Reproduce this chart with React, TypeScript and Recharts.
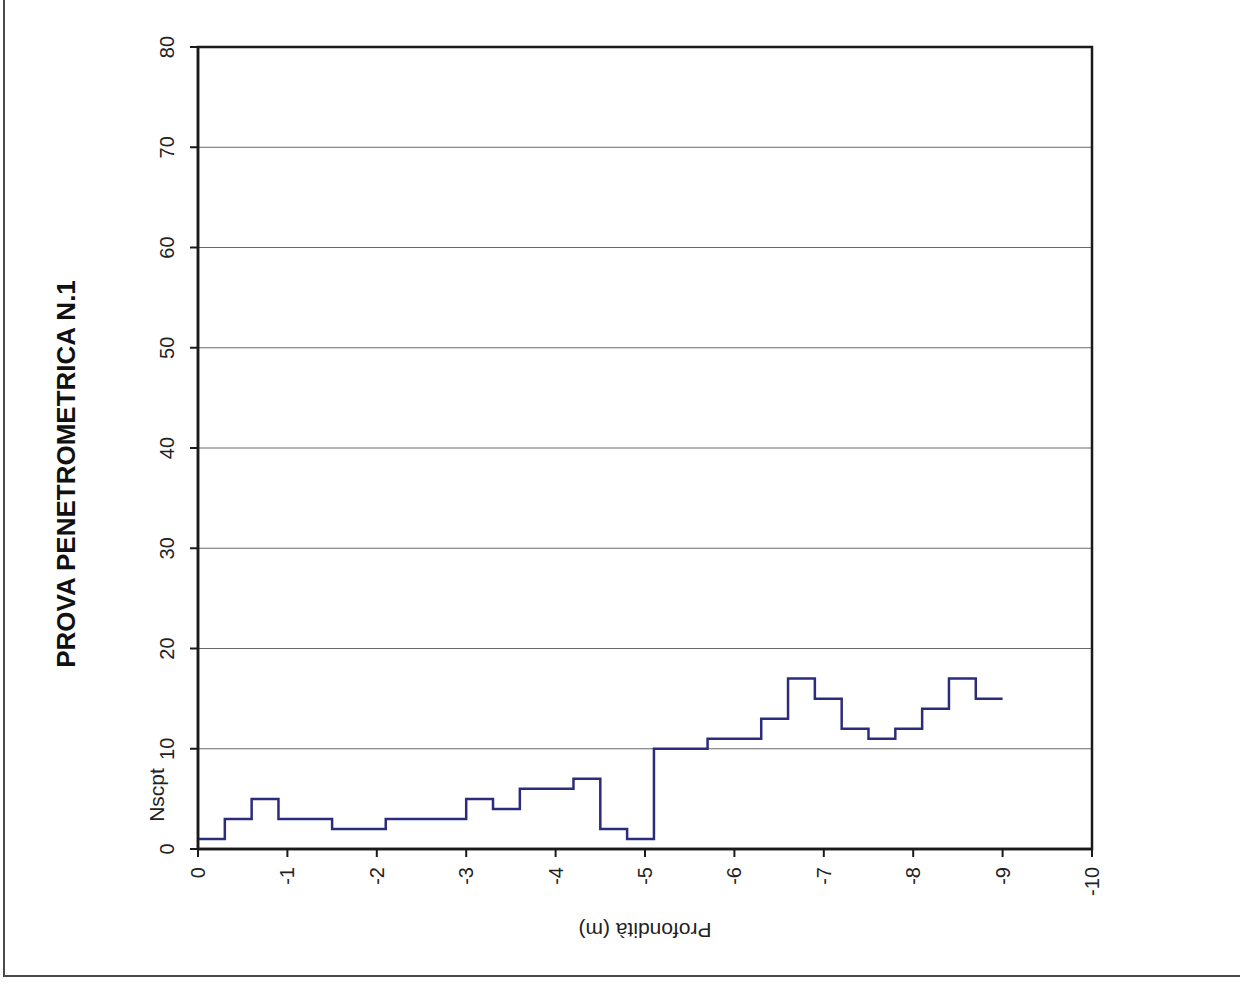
import React from 'react';
import { LineChart, Line, XAxis, YAxis, CartesianGrid, ReferenceArea, Label } from 'recharts';

// profondità (m) e colpi Nscpt, passo 0.3 m
const depth = [0, -0.3, -0.6, -0.9, -1.2, -1.5, -1.8, -2.1, -2.4, -2.7, -3.0, -3.3, -3.6, -3.9, -4.2, -4.5, -4.8, -5.1, -5.4, -5.7, -6.0, -6.3, -6.6, -6.9, -7.2, -7.5, -7.8, -8.1, -8.4, -8.7, -9.0];
const nscpt = [1, 3, 5, 3, 3, 2, 2, 3, 3, 3, 5, 4, 6, 6, 7, 2, 1, 10, 10, 11, 11, 13, 17, 15, 12, 11, 12, 14, 17, 15, 15];

const xTicks = [0, -1, -2, -3, -4, -5, -6, -7, -8, -9, -10];
const yTicks = [0, 10, 20, 30, 40, 50, 60, 70, 80];

const title = 'PROVA PENETROMETRICA N.1';
const xTitle = 'Profondità (m)';
const yTitle = 'Nscpt';

const data = depth.map((d, i) => ({ depth: d, nscpt: nscpt[i] }));

const FONT = '"Liberation Sans", Arial, sans-serif';

const YTick = (props: any) => {
    const { x, y, payload } = props;
    return (
        <text transform={`translate(${x - 21},${y}) rotate(-90)`} textAnchor="middle" dominantBaseline="central" fontSize={20} fontFamily={FONT} fill="#222">
            {payload.value}
        </text>
    );
};

const XTick = (props: any) => {
    const { x, y, payload } = props;
    return (
        <text transform={`translate(${x},${y + 8}) rotate(-90)`} textAnchor="end" dominantBaseline="central" fontSize={20} fontFamily={FONT} fill="#222">
            {payload.value}
        </text>
    );
};

export default function App() {
    return (
        <div style={{ position: 'absolute', left: 0, top: 0, width: 1240, height: 987, background: '#fff' }}>
            <div style={{ position: 'absolute', left: 3, top: 0, width: 1237, height: 975, borderLeft: '2px solid #4a4a4a', borderBottom: '2px solid #4a4a4a' }} />
            <LineChart width={1240} height={987} data={data} margin={{ top: 47, right: 148, bottom: 98, left: 138 }} style={{ position: 'absolute', left: 0, top: 0 }}>
                <CartesianGrid vertical={false} stroke="#6a6a6a" strokeWidth={1} />
                <XAxis
                    dataKey="depth"
                    type="number"
                    domain={[-10, 0]}
                    reversed
                    ticks={xTicks}
                    interval={0}
                    height={40}
                    tick={<XTick />}
                    tickSize={8}
                    tickLine={{ stroke: '#1a1a1a', strokeWidth: 2 }}
                    axisLine={{ stroke: '#1a1a1a', strokeWidth: 2.5 }}
                >
                    <Label
                        content={(p: any) => {
                            const vb = p.viewBox;
                            return (
                                <text transform={`translate(${vb.x + vb.width / 2},${vb.y + 81}) rotate(180)`} textAnchor="middle" dominantBaseline="central" fontSize={21} fontFamily={FONT} fill="#222">
                                    {xTitle}
                                </text>
                            );
                        }}
                    />
                </XAxis>
                <YAxis
                    type="number"
                    domain={[0, 80]}
                    ticks={yTicks}
                    interval={0}
                    width={60}
                    tick={<YTick />}
                    tickSize={8}
                    tickLine={{ stroke: '#1a1a1a', strokeWidth: 2 }}
                    axisLine={{ stroke: '#1a1a1a', strokeWidth: 2.5 }}
                >
                    <Label
                        content={(p: any) => {
                            const vb = p.viewBox;
                            const right = vb.x + vb.width;
                            return (
                                <g>
                                    <text transform={`translate(${right - 42},${vb.y + vb.height - 54}) rotate(-90)`} textAnchor="middle" dominantBaseline="central" fontSize={21} fontFamily={FONT} fill="#222">
                                        {yTitle}
                                    </text>
                                    <text transform={`translate(${right - 132},${vb.y + vb.height / 2 + 26}) rotate(-90)`} textAnchor="middle" dominantBaseline="central" fontSize={26} fontWeight="bold" fontFamily={FONT} fill="#111">
                                        {title}
                                    </text>
                                </g>
                            );
                        }}
                    />
                </YAxis>
                <ReferenceArea x1={0} x2={-10} y1={0} y2={80} fill="none" stroke="#1a1a1a" strokeWidth={2.5} fillOpacity={0} />
                <Line type="stepAfter" dataKey="nscpt" stroke="#2b2d7c" strokeWidth={2.5} dot={false} isAnimationActive={false} />
            </LineChart>
        </div>
    );
}
